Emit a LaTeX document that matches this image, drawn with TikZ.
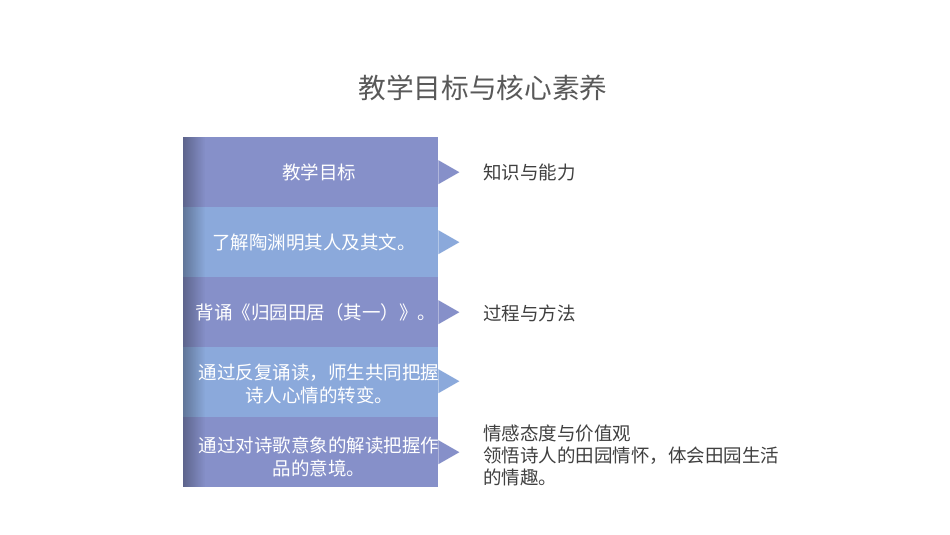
\documentclass[tikz,border=0pt]{standalone}
\usepackage{fontspec}
\setmainfont{Noto Sans CJK SC}
\usetikzlibrary{fadings}
\definecolor{rowA}{HTML}{8690C9}
\definecolor{rowB}{HTML}{8BA9DB}
\definecolor{titlegray}{HTML}{595959}
\definecolor{labelgray}{HTML}{404040}
\tikzset{
  rowbox/.style={draw=none, minimum width=255pt, minimum height=70pt, inner sep=0pt, anchor=north west},
  rowtext/.style={text=white, font=\fontsize{18.5pt}{22.5pt}\selectfont, align=center, inner sep=0pt},
  sidelabel/.style={text=labelgray, font=\fontsize{18.5pt}{22pt}\selectfont, align=left, anchor=west, inner sep=0pt},
}
\begin{document}
\begin{tikzpicture}[x=1pt,y=-1pt]
\useasboundingbox (0,0) rectangle (950,535);
\fill[white] (0,0) rectangle (950,535);
\node[text=titlegray, font=\fontsize{27.7pt}{32pt}\selectfont, inner sep=0pt] (title) at (483,88) {教学目标与核心素养};
% rows
\node[rowbox, fill=rowA] (r1) at (183,137) {};
\node[rowbox, fill=rowB] (r2) at (183,207) {};
\node[rowbox, fill=rowA] (r3) at (183,277) {};
\node[rowbox, fill=rowB] (r4) at (183,347) {};
\node[rowbox, fill=rowA] (r5) at (183,417) {};
% pointers
\foreach \r/\c/\dy in {r1/rowA/0, r2/rowB/0, r3/rowA/0, r4/rowB/1, r5/rowA/0}{
  \fill[\c] ([yshift=-12pt+\dy pt]\r.east) -- ([xshift=21pt,yshift=\dy pt]\r.east) -- ([yshift=12pt+\dy pt]\r.east) -- cycle;
}
% left shading
\fill[black, opacity=0.3, path fading=east] (183,137) rectangle (205,487);
% row texts
\node[rowtext] (t1) at (319,172) {教学目标};
\node[rowtext] (t2) at (314,242) {了解陶渊明其人及其文。};
\node[rowtext] (t3) at (316,312) {背诵《归园田居（其一）》。};
\node[rowtext] (t4) at (319,384) {通过反复诵读，师生共同把握\\诗人心情的转变。};
\node[rowtext] (t5) at (319,457) {通过对诗歌意象的解读把握作\\品的意境。};
% side labels
\node[sidelabel] (s1) at (483,172) {知识与能力};
\node[sidelabel] (s2) at (483,313) {过程与方法};
\node[sidelabel] (s3) at (483,455) {情感态度与价值观\\领悟诗人的田园情怀，体会田园生活\\的情趣。};
\end{tikzpicture}
\end{document}
